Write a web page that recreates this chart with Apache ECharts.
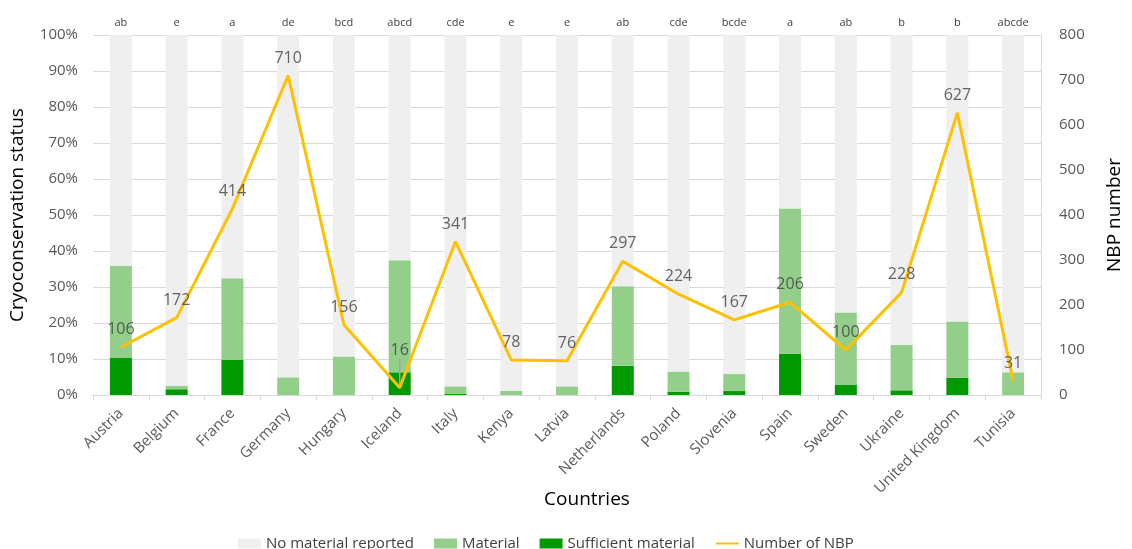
<!DOCTYPE html>
<html>
<head>
<meta charset="utf-8">
<script src="https://cdn.jsdelivr.net/npm/echarts@6/dist/echarts.min.js"></script>
<style>
html, body { margin: 0; padding: 0; background: #fff; }
#chart { width: 1132px; height: 549px; }
</style>
</head>
<body>
<div id="chart"></div>
<script>
// Countries and significance groups shown above each bar
const countries = ['Austria', 'Belgium', 'France', 'Germany', 'Hungary', 'Iceland', 'Italy', 'Kenya', 'Latvia',
  'Netherlands', 'Poland', 'Slovenia', 'Spain', 'Sweden', 'Ukraine', 'United Kingdom', 'Tunisia'];
const groups = ['ab', 'e', 'a', 'de', 'bcd', 'abcd', 'cde', 'e', 'e', 'ab', 'cde', 'bcde', 'a', 'ab', 'b', 'b', 'abcde'];

// Cryoconservation status (% of NBP)
const sufficient = [10.3, 1.6, 9.8, 0, 0, 6.3, 0.4, 0, 0, 8.1, 0.9, 1.1, 11.5, 2.9, 1.3, 4.8, 0];
const material = [25.6, 1.0, 22.6, 4.9, 10.7, 31.1, 2.0, 1.2, 2.4, 22.1, 5.6, 4.7, 40.3, 20.0, 12.6, 15.6, 6.3];
const noMaterial = [64.1, 97.4, 67.6, 95.1, 89.3, 62.6, 97.6, 98.8, 97.6, 69.8, 93.5, 94.2, 48.2, 77.1, 86.1, 79.6, 93.7];

// Number of national breed populations
const nbp = [106, 172, 414, 710, 156, 16, 341, 78, 76, 297, 224, 167, 206, 100, 228, 627, 31];

const leftTicks = { min: 0, max: 100, interval: 10 };
const rightTicks = { min: 0, max: 800, interval: 100 };

// Countries whose NBP label is lifted above the line, with a leader line
const raisedLabels = ['Iceland'];
const isRaised = i => raisedLabels.indexOf(countries[i]) >= 0;

const FONT = '"Open Sans", "Liberation Sans", sans-serif';
const chart = echarts.init(document.getElementById('chart'));

const barCommon = {
  type: 'bar',
  stack: 'status',
  barWidth: 22,
  xAxisIndex: 0,
  yAxisIndex: 0
};

const labelCommon = {
  type: 'scatter',
  xAxisIndex: 0,
  yAxisIndex: 1,
  symbolSize: 1,
  itemStyle: { color: 'rgba(0,0,0,0)' },
  silent: true,
  z: 6,
  label: {
    show: true,
    position: 'top',
    distance: 9,
    fontSize: 16,
    color: '#404040'
  }
};

chart.setOption({
  animation: false,
  textStyle: { fontFamily: FONT },
  grid: { left: 92, right: 83, top: 35, bottom: 154 },
  legend: {
    top: 531,
    left: 233,
    itemWidth: 23,
    itemHeight: 10,
    itemGap: 20,
    textStyle: { fontSize: 15, color: '#404040', fontFamily: FONT },
    data: [
      { name: 'No material reported', icon: 'rect' },
      { name: 'Material', icon: 'rect' },
      { name: 'Sufficient material', icon: 'rect' },
      { name: 'Number of NBP', itemStyle: { color: 'rgba(0,0,0,0)', borderWidth: 0 } }
    ]
  },
  xAxis: [
    {
      type: 'category',
      data: countries,
      name: 'Countries',
      nameLocation: 'middle',
      nameGap: 95,
      nameMoveOverlap: false,
      nameTextStyle: { fontSize: 19, color: '#000', padding: [0, 0, 0, 40] },
      axisLine: { lineStyle: { color: '#d9d9d9' } },
      axisTick: { show: true, length: 5, lineStyle: { color: '#d9d9d9' } },
      axisLabel: { rotate: 45, fontSize: 15, color: '#595959', margin: 16 }
    },
    {
      type: 'category',
      data: groups,
      position: 'top',
      axisLine: { show: false },
      axisTick: { show: false },
      axisLabel: { fontSize: 11, color: '#404040', margin: 7 }
    }
  ],
  yAxis: [
    {
      type: 'value',
      min: leftTicks.min,
      max: leftTicks.max,
      interval: leftTicks.interval,
      name: 'Cryoconservation status',
      nameLocation: 'middle',
      nameGap: 66,
      nameTextStyle: { fontSize: 19, color: '#000' },
      axisLabel: { formatter: '{value}%', fontSize: 15, color: '#595959', margin: 15 },
      axisLine: { show: false },
      axisTick: { show: false },
      splitLine: { lineStyle: { color: '#d9d9d9' } }
    },
    {
      type: 'value',
      min: rightTicks.min,
      max: rightTicks.max,
      interval: rightTicks.interval,
      name: 'NBP number',
      nameLocation: 'middle',
      nameGap: 64,
      nameRotate: 90,
      nameTextStyle: { fontSize: 19, color: '#000' },
      axisLabel: { fontSize: 15, color: '#595959', margin: 18 },
      axisLine: { show: true, lineStyle: { color: '#d9d9d9' } },
      axisTick: { show: false },
      splitLine: { show: false }
    }
  ],
  series: [
    Object.assign({}, barCommon, {
      name: 'Sufficient material',
      data: sufficient,
      itemStyle: { color: '#009a00' }
    }),
    Object.assign({}, barCommon, {
      name: 'Material',
      data: material,
      itemStyle: { color: '#93cf8a' }
    }),
    Object.assign({}, barCommon, {
      name: 'No material reported',
      data: noMaterial,
      itemStyle: { color: '#efefef' }
    }),
    {
      name: 'Number of NBP',
      type: 'line',
      xAxisIndex: 0,
      yAxisIndex: 1,
      data: nbp,
      symbol: 'none',
      lineStyle: { color: '#ffc000', width: 3 },
      itemStyle: { color: '#ffc000' },
      z: 5
    },
    // value labels sitting just above the line
    Object.assign({}, labelCommon, {
      name: 'NBP labels',
      data: nbp.map((v, i) => isRaised(i) ? '-' : v)
    }),
    // lifted value labels with a grey leader line
    Object.assign({}, labelCommon, {
      name: 'NBP raised labels',
      z: 4,
      data: nbp.map((v, i) => isRaised(i) ? v : '-'),
      labelLine: { show: true, lineStyle: { color: '#a6a6a6', width: 1.5 } },
      labelLayout: function () {
        return { dy: -20 };
      }
    })
  ]
});
</script>
</body>
</html>
